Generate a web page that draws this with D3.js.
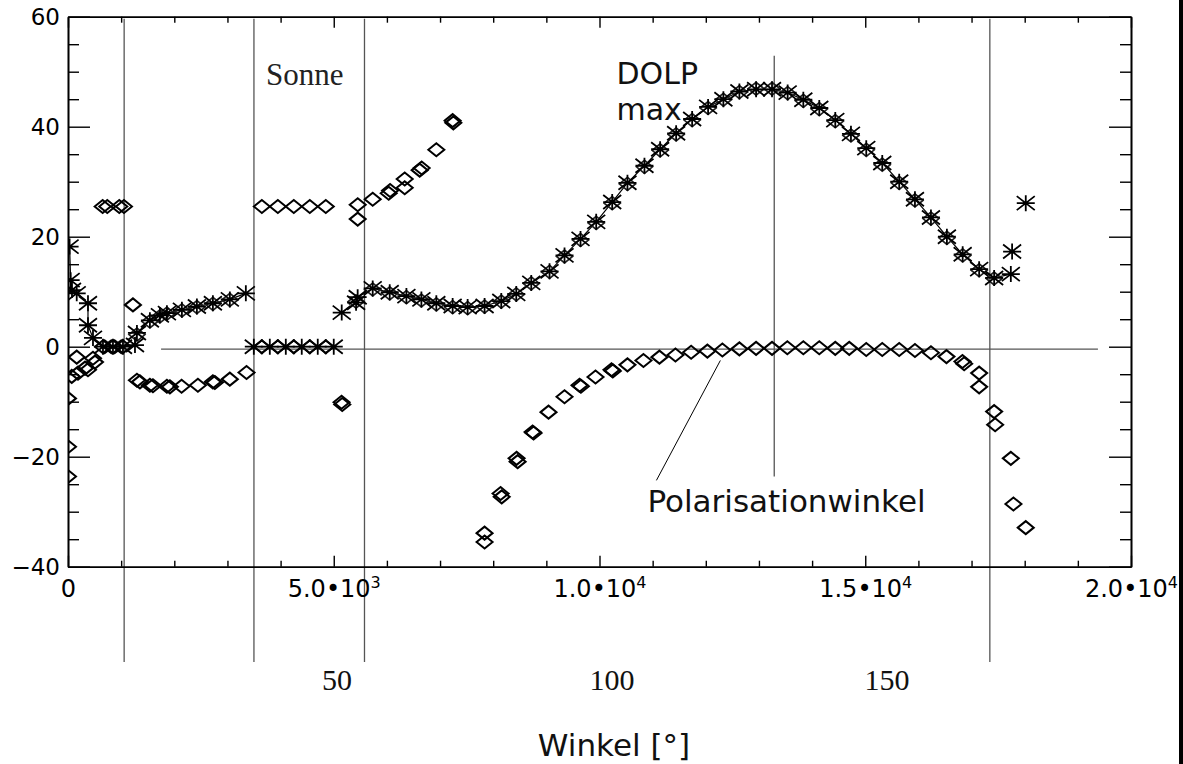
<!DOCTYPE html>
<html>
<head>
<meta charset="utf-8">
<script src="https://cdn.jsdelivr.net/npm/d3@7"></script>
<style>
  body { margin: 0; background: #fff; }
  svg { display: block; }
</style>
</head>
<body>
<script>
// DOLP (asterisks joined by a line), first scan segment
const dolpX1 = [30, 50, 75, 164, 376, 376, 470, 658, 846, 1034, 1260, 1297, 1541, 1729, 1861, 2143, 2425, 2726, 3045, 3346];
const dolpY1 = [18.2, 12.1, 10.3, 9.7, 7.9, 3.9, 1.6, 0, 0, 0, 0.3, 2.5, 4.8, 5.7, 6.1, 6.7, 7.3, 7.9, 8.6, 9.7];
// DOLP while looking at the sun
const dolpX2 = [3496, 3797, 4098, 4398, 4699, 5000];
const dolpY2 = [0, 0, 0, 0, 0, 0];
// DOLP, main segment
const dolpX3 = [5150, 5420, 5450, 5733, 6053, 6367, 6649, 6930, 7237, 7519, 7838, 8152, 8434, 8716, 9060, 9342, 9643, 9938, 10239, 10526, 10846, 11141, 11442, 11743, 12043, 12331, 12632, 12946, 13246, 13540, 13835, 14135, 14436, 14731, 15019, 15320, 15639, 15935, 16236, 16536, 16833, 17143, 17425, 17739];
const dolpY3 = [6.2, 8.0, 9.0, 10.6, 9.9, 9.2, 8.6, 7.9, 7.4, 7.2, 7.4, 8.3, 9.6, 11.6, 13.7, 16.6, 19.6, 22.7, 26.3, 29.8, 32.9, 35.9, 38.8, 41.4, 43.6, 45.0, 46.4, 46.8, 46.8, 46.2, 44.9, 43.4, 41.2, 38.7, 36.1, 33.4, 30.0, 26.8, 23.5, 20.0, 16.8, 14.1, 12.5, 13.2];
// loose DOLP points at the end
const dolpLooseX = [17763, 18020];
const dolpLooseY = [17.3, 26.1];
// second DOLP scan drawn with diamonds (mostly under the asterisks)
const dolpBX = [1297, 1541, 1729, 1861, 2143, 2425, 2726, 3045, 5420, 5733, 6053, 6367, 6649, 6930, 7237, 7519, 7838, 8152, 8434, 8716, 9060, 9342, 9643, 9938, 10239, 10526, 10846, 11141, 11442, 11743, 12043, 12331, 12632, 12946, 13246, 13540, 13835, 14135, 14436, 14731, 15019, 15320, 15639, 15935, 16236, 16536, 16833, 17143, 17425];
const dolpBY = [2.2, 4.6, 5.5, 6.0, 6.6, 7.2, 7.8, 8.5, 8.2, 10.4, 9.7, 9.0, 8.4, 7.7, 7.2, 7.0, 7.3, 8.2, 9.5, 11.5, 13.6, 16.4, 19.4, 22.5, 26.1, 29.6, 32.7, 35.7, 38.6, 41.2, 43.4, 44.9, 46.3, 46.9, 46.9, 46.1, 44.7, 43.2, 41.0, 38.4, 35.8, 33.1, 29.8, 26.6, 23.3, 19.8, 16.6, 13.9, 12.4];
// polarisation angle (diamonds)
const angX = [0, 0, 0, 70, 164, 188, 320, 376, 470, 508, 658, 846, 1034, 652, 739, 965, 1053, 1222, 1297, 1353, 1541, 1598, 1861, 1917, 2137, 2444, 2726, 2763, 3045, 3359,
  3647, 3948, 4248, 4549, 4850, 3647, 3948, 4248, 4549, 4850, 5147, 5160, 5451, 5451, 5733, 6034, 6060, 6335, 6335, 6617, 6654, 6930, 7237, 7250,
  7838, 7838, 8139, 8160, 8440, 8460, 8741, 8760, 9041, 9342, 9624, 9650, 9925, 10226, 10250, 10526, 10827, 11128, 11429, 11724, 12030, 12312, 12632, 12946, 13246, 13534, 13835, 14135, 14436, 14699, 15019, 15320, 15639, 15935, 16236, 16528, 16829, 16861, 17143, 17143, 17425, 17444, 17739, 17788, 18020];
const angY = [-9.4, -18.2, -23.6, -5.4, -1.9, -4.8, -3.9, -4.2, -2.1, -2.8, 0, 0, 0, 25.5, 25.5, 25.5, 25.5, 7.6, -6.1, -6.4, -7.0, -7.1, -7.2, -7.3, -7.2, -7.0, -6.4, -6.5, -5.9, -4.7,
  0, 0, 0, 0, 0, 25.5, 25.5, 25.5, 25.5, 25.5, -10.1, -10.5, 25.8, 23.2, 26.8, 27.9, 28.4, 30.5, 28.9, 32.1, 32.5, 35.8, 41.1, 40.7,
  -33.9, -35.5, -26.7, -27.3, -20.3, -20.9, -15.5, -15.7, -11.9, -9.1, -7.0, -7.2, -5.5, -4.2, -4.4, -3.3, -2.5, -1.9, -1.5, -1.0, -0.8, -0.6, -0.4, -0.3, -0.3, -0.2, -0.2, -0.2, -0.3, -0.3, -0.5, -0.5, -0.5, -0.7, -1.1, -1.8, -2.7, -3.1, -4.8, -7.3, -11.8, -14.2, -20.3, -28.6, -32.9];

// axes
const xMajor = [0, 5000, 10000, 15000, 20000];
const xMantissa = ['0', '5.0', '1.0', '1.5', '2.0'];
const xExponent = ['', '3', '4', '4', '4'];
const yMajor = [-40, -20, 0, 20, 40, 60];
// secondary angle axis (degrees) and markers
const angleTicks = [50, 100, 150];
const angleAt = [5061, 15409]; // x positions of 50° and 150°
const markerAngles = [11.3, 34.9, 55, 168.7];
const dolpMaxAngle = 129.5;
const meanLevel = -0.45;
const meanRange = [1751, 19378];

const WIDTH = 1183;
const HEIGHT = 764;
const L = 68, R = 1131, T = 16.7, B = 566.7;

const x = d3.scaleLinear().domain([0, 20000]).range([L, R]);
const y = d3.scaleLinear().domain([-40, 60]).range([B, T]);
const ang = d3.scaleLinear().domain([50, 150]).range(angleAt.map(x));

const svg = d3.select('body').append('svg')
  .attr('width', WIDTH).attr('height', HEIGHT)
  .attr('viewBox', `0 0 ${WIDTH} ${HEIGHT}`);

svg.append('clipPath').attr('id', 'plot')
  .append('rect').attr('x', L).attr('y', T).attr('width', R - L).attr('height', B - T);

// vertical marker lines (angles)
svg.selectAll('.marker').data(markerAngles).join('line')
  .attr('class', 'marker')
  .attr('x1', (d) => ang(d)).attr('x2', (d) => ang(d))
  .attr('y1', T + 2).attr('y2', 662)
  .attr('stroke', '#555').attr('stroke-width', 1.3);

svg.append('line')
  .attr('x1', ang(dolpMaxAngle)).attr('x2', ang(dolpMaxAngle))
  .attr('y1', y(52.9)).attr('y2', y(-23.6))
  .attr('stroke', '#555').attr('stroke-width', 1.3);

svg.append('line')
  .attr('x1', x(meanRange[0])).attr('x2', x(meanRange[1]))
  .attr('y1', y(meanLevel)).attr('y2', y(meanLevel))
  .attr('stroke', '#555').attr('stroke-width', 1.3);

// axes
const axisStyle = (g) => {
  g.select('.domain').attr('stroke', '#000').attr('stroke-width', 1.6);
  g.selectAll('.tick line').attr('stroke', '#000').attr('stroke-width', 1.4);
  g.selectAll('.tick text').attr('fill', '#000');
};
const minorX = d3.range(0, 20001, 1000).filter((d) => d % 5000);
const minorY = d3.range(-40, 61, 5).filter((d) => d % 20);

svg.append('g').attr('transform', `translate(0,${B})`)
  .call(d3.axisBottom(x).tickValues(minorX).tickSize(-6).tickSizeOuter(0).tickFormat(''))
  .call(axisStyle);
svg.append('g').attr('transform', `translate(0,${T})`)
  .call(d3.axisTop(x).tickValues(minorX).tickSize(-6).tickSizeOuter(0).tickFormat(''))
  .call(axisStyle);
svg.append('g').attr('transform', `translate(0,${T})`)
  .call(d3.axisTop(x).tickValues(xMajor).tickSize(-11).tickSizeOuter(0).tickFormat(''))
  .call(axisStyle);

const xAxis = svg.append('g').attr('transform', `translate(0,${B})`)
  .call(d3.axisBottom(x).tickValues(xMajor).tickSize(-11).tickSizeOuter(0).tickPadding(13))
  .call(axisStyle);
xAxis.selectAll('.tick text')
  .attr('font-family', 'DejaVu Sans').attr('font-size', 24)
  .each(function (d, i) {
    const t = d3.select(this).text(null);
    if (!xExponent[i]) { t.text(xMantissa[i]); return; }
    t.append('tspan').text(`${xMantissa[i]}\u202210`);
    t.append('tspan').attr('font-size', 16).attr('dy', '-0.55em').text(xExponent[i]);
  });

svg.append('g').attr('transform', `translate(${L},0)`)
  .call(d3.axisLeft(y).tickValues(minorY).tickSize(-11).tickSizeOuter(0).tickFormat(''))
  .call(axisStyle);
svg.append('g').attr('transform', `translate(${R},0)`)
  .call(d3.axisRight(y).tickValues(minorY).tickSize(-11).tickSizeOuter(0).tickFormat(''))
  .call(axisStyle);
svg.append('g').attr('transform', `translate(${R},0)`)
  .call(d3.axisRight(y).tickValues(yMajor).tickSize(-22).tickSizeOuter(0).tickFormat(''))
  .call(axisStyle);
svg.append('g').attr('transform', `translate(${L},0)`)
  .call(d3.axisLeft(y).tickValues(yMajor).tickSize(-22).tickSizeOuter(0).tickPadding(8))
  .call(axisStyle)
  .call((g) => g.selectAll('.tick text').attr('font-family', 'DejaVu Sans').attr('font-size', 23));

// data
const plot = svg.append('g').attr('clip-path', 'url(#plot)');
const pts = (xs, ys) => xs.map((v, i) => [v, ys[i]]);
const line = d3.line().x((d) => x(d[0])).y((d) => y(d[1]));

const star = 'M-9,-7L9,7M-9,7L9,-7M0,-8L0,8M-9,0L9,0';
const diamond = 'M-8,0L0,-6.5L8,0L0,6.5Z';

[pts(dolpX1, dolpY1), pts(dolpX2, dolpY2), pts(dolpX3, dolpY3)].forEach((seg) => {
  plot.append('path').datum(seg).attr('d', line)
    .attr('fill', 'none').attr('stroke', '#000').attr('stroke-width', 1.2);
});

plot.selectAll('.dB').data(pts(dolpBX, dolpBY)).join('path')
  .attr('class', 'dB')
  .attr('transform', (d) => `translate(${x(d[0])},${y(d[1])})`)
  .attr('d', diamond).attr('fill', 'none').attr('stroke', '#222').attr('stroke-width', 1.7);

plot.selectAll('.ang').data(pts(angX, angY)).join('path')
  .attr('class', 'ang')
  .attr('transform', (d) => `translate(${x(d[0])},${y(d[1])})`)
  .attr('d', diamond).attr('fill', 'none').attr('stroke', '#000').attr('stroke-width', 2);

const allStars = pts(dolpX1, dolpY1).concat(pts(dolpX2, dolpY2), pts(dolpX3, dolpY3), pts(dolpLooseX, dolpLooseY));
plot.selectAll('.star').data(allStars).join('path')
  .attr('class', 'star')
  .attr('transform', (d) => `translate(${x(d[0])},${y(d[1])})`)
  .attr('d', star).attr('fill', 'none').attr('stroke', '#000').attr('stroke-width', 1.8);

// annotations
svg.append('text').attr('x', x(3726)).attr('y', y(47.6))
  .attr('font-family', 'Liberation Serif').attr('font-size', 31).attr('fill', '#222').text('Sonne');

const dolpLabel = svg.append('text').attr('font-family', 'DejaVu Sans').attr('font-size', 30).attr('fill', '#111');
dolpLabel.append('tspan').attr('x', x(10320)).attr('y', y(47.8)).text('DOLP');
dolpLabel.append('tspan').attr('x', x(10320)).attr('y', y(41.2)).text('max');

svg.append('line')
  .attr('x1', x(11071)).attr('y1', y(-24.3)).attr('x2', x(12274)).attr('y2', y(-2.5))
  .attr('stroke', '#000').attr('stroke-width', 1);
svg.append('text').attr('x', x(10902)).attr('y', y(-30))
  .attr('font-family', 'DejaVu Sans').attr('font-size', 31).attr('fill', '#111').text('Polarisationwinkel');

// secondary angle labels
svg.selectAll('.angLabel').data(angleTicks).join('text')
  .attr('class', 'angLabel')
  .attr('x', (d) => ang(d)).attr('y', 690).attr('text-anchor', 'middle')
  .attr('font-family', 'Liberation Serif').attr('font-size', 30).attr('fill', '#111')
  .text((d) => d);

svg.append('text').attr('x', 614).attr('y', 756).attr('text-anchor', 'middle')
  .attr('font-family', 'DejaVu Sans').attr('font-size', 31).attr('fill', '#111').text('Winkel [°]');

// window edge
svg.append('rect').attr('x', 1179).attr('y', 0).attr('width', 4).attr('height', HEIGHT).attr('fill', '#000');
</script>
</body>
</html>
